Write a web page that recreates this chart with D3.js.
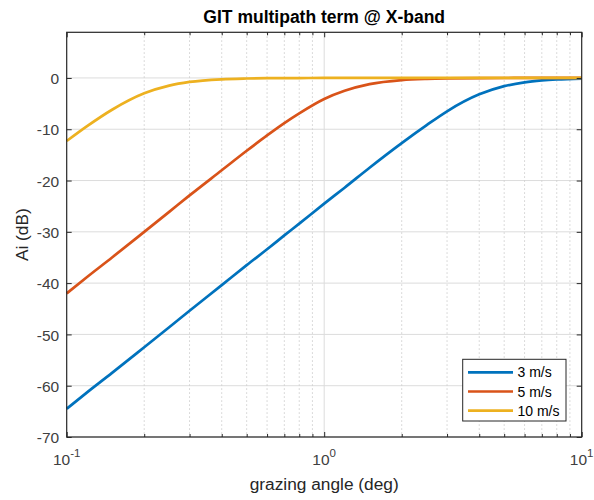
<!DOCTYPE html>
<html><head><meta charset="utf-8">
<script src="https://cdn.jsdelivr.net/npm/d3@7"></script>
<style>body{margin:0;background:#fff}svg{display:block}text{font-family:"Liberation Sans",Arial,Helvetica,sans-serif}</style>
</head><body><svg id="c" width="594" height="500"></svg>
<script>
const angles = [0.1,0.12,0.15,0.2,0.25,0.3,0.4,0.5,0.6,0.7,0.8,1,1.2,1.5,2,2.5,3,4,5,6,7,8,10];
const wind3  = [-64.5,-61.3,-57.5,-52.5,-48.6,-45.4,-40.4,-36.5,-33.4,-30.7,-28.4,-24.5,-21.4,-17.5,-12.7,-9.2,-6.5,-3.2,-1.6,-0.86,-0.49,-0.29,-0.12];
const wind5  = [-42.0,-38.8,-35.0,-30.0,-26.1,-22.9,-18.0,-14.2,-11.2,-8.8,-6.9,-4.1,-2.5,-1.2,-0.41,-0.17,-0.08,-0.03,-0.01,0,0,0,0];
const wind10 = [-12.3,-9.4,-6.2,-3.0,-1.5,-0.78,-0.26,-0.11,-0.05,-0.03,-0.02,0,0,0,0,0,0,0,0,0,0,0,0];
const seriesNames = ["3 m/s","5 m/s","10 m/s"];
const seriesColors = ["#0072BD","#D95319","#EDB120"];
const yTicks = [-70,-60,-50,-40,-30,-20,-10,0];
const xMajor = [0.1,1,10];
const xMajorExp = ["-1","0","1"];
const xMinor = [0.2,0.3,0.4,0.5,0.6,0.7,0.8,0.9,2,3,4,5,6,7,8,9];

const svg = d3.select("#c");
const L=66.7, R=581.7, T=32.3, B=437;
const x = d3.scaleLog().domain([0.1,10]).range([L,R]);
const y = d3.scaleLinear().domain([-70,8.9]).range([B,T]);
const axisCol="#262626", gridCol="#dcdcdc";

// grid
const g = svg.append("g");
g.selectAll(".gy").data(yTicks).join("line").attr("x1",L).attr("x2",R)
  .attr("y1",d=>y(d)).attr("y2",d=>y(d)).attr("stroke",gridCol).attr("stroke-width",1);
g.selectAll(".gxm").data(xMinor).join("line").attr("y1",T).attr("y2",B)
  .attr("x1",d=>x(d)).attr("x2",d=>x(d)).attr("stroke","#cfcfcf").attr("stroke-width",1).attr("stroke-dasharray","1.5,2.5");
g.selectAll(".gx").data([1]).join("line").attr("y1",T).attr("y2",B)
  .attr("x1",d=>x(d)).attr("x2",d=>x(d)).attr("stroke",gridCol).attr("stroke-width",1);

// lines
const series=[wind3,wind5,wind10];
const line = d3.line().x((d,i)=>x(angles[i])).y(d=>y(d)).curve(d3.curveMonotoneX);
series.forEach((s,k)=>{
  svg.append("path").datum(s).attr("d",line).attr("fill","none")
    .attr("stroke",seriesColors[k]).attr("stroke-width",2.7).attr("stroke-linejoin","round");
});

// box
svg.append("rect").attr("x",L).attr("y",T).attr("width",R-L).attr("height",B-T)
  .attr("fill","none").attr("stroke",axisCol).attr("stroke-width",1.2);

// ticks using d3 axes (inward)
const yAxisL = d3.axisLeft(y).tickValues(yTicks).tickSize(-5).tickFormat(d=>String(d));
const gyl = svg.append("g").attr("transform",`translate(${L},0)`).call(yAxisL);
gyl.select(".domain").remove();
gyl.selectAll("line").attr("stroke",axisCol);
gyl.selectAll("text").attr("fill","#404040").attr("font-size",15.5).attr("dy","0.36em").attr("x",-7.5);
const gyr = svg.append("g").attr("transform",`translate(${R},0)`).call(d3.axisRight(y).tickValues(yTicks).tickSize(-5).tickFormat(""));
gyr.select(".domain").remove(); gyr.selectAll("line").attr("stroke",axisCol);

const gxb = svg.append("g").attr("transform",`translate(0,${B})`).call(d3.axisBottom(x).tickValues(xMajor).tickSize(-5).tickFormat(""));
gxb.select(".domain").remove(); gxb.selectAll("line").attr("stroke",axisCol);
const gxbm = svg.append("g").attr("transform",`translate(0,${B})`).call(d3.axisBottom(x).tickValues(xMinor).tickSize(-3).tickFormat(""));
gxbm.select(".domain").remove(); gxbm.selectAll("line").attr("stroke",axisCol);
const gxt = svg.append("g").attr("transform",`translate(0,${T})`).call(d3.axisTop(x).tickValues(xMajor).tickSize(-5).tickFormat(""));
gxt.select(".domain").remove(); gxt.selectAll("line").attr("stroke",axisCol);
const gxtm = svg.append("g").attr("transform",`translate(0,${T})`).call(d3.axisTop(x).tickValues(xMinor).tickSize(-3).tickFormat(""));
gxtm.select(".domain").remove(); gxtm.selectAll("line").attr("stroke",axisCol);

// x tick labels 10^n
xMajor.forEach((v,i)=>{
  const t = svg.append("text").attr("x",x(v)).attr("y",465).attr("text-anchor","middle")
    .attr("fill","#404040").attr("font-size",15.5);
  t.append("tspan").text("10");
  t.append("tspan").attr("dy",-8).attr("font-size",11.5).text(xMajorExp[i]);
});

// titles
svg.append("text").attr("x",(L+R)/2).attr("y",23).attr("text-anchor","middle")
  .attr("font-weight","bold").attr("font-size",17.5).attr("fill","#000").text("GIT multipath term @ X-band");
svg.append("text").attr("x",(L+R)/2).attr("y",490).attr("text-anchor","middle")
  .attr("font-size",17.3).attr("fill","#262626").text("grazing angle (deg)");
svg.append("text").attr("transform",`translate(28,${(T+B)/2}) rotate(-90)`).attr("text-anchor","middle")
  .attr("font-size",17.3).attr("fill","#262626").text("Ai (dB)");

// legend
const lg = svg.append("g");
lg.append("rect").attr("x",462.7).attr("y",359.3).attr("width",103.3).attr("height",61.7)
  .attr("fill","#fff").attr("stroke",axisCol).attr("stroke-width",1);
seriesNames.forEach((n,k)=>{
  const yy = 372.3 + k*19.2;
  lg.append("line").attr("x1",468).attr("x2",513).attr("y1",yy).attr("y2",yy)
    .attr("stroke",seriesColors[k]).attr("stroke-width",2.7);
  lg.append("text").attr("x",517.5).attr("y",yy).attr("dy","0.36em").attr("font-size",14)
    .attr("fill","#000").text(n);
});
</script></body></html>
